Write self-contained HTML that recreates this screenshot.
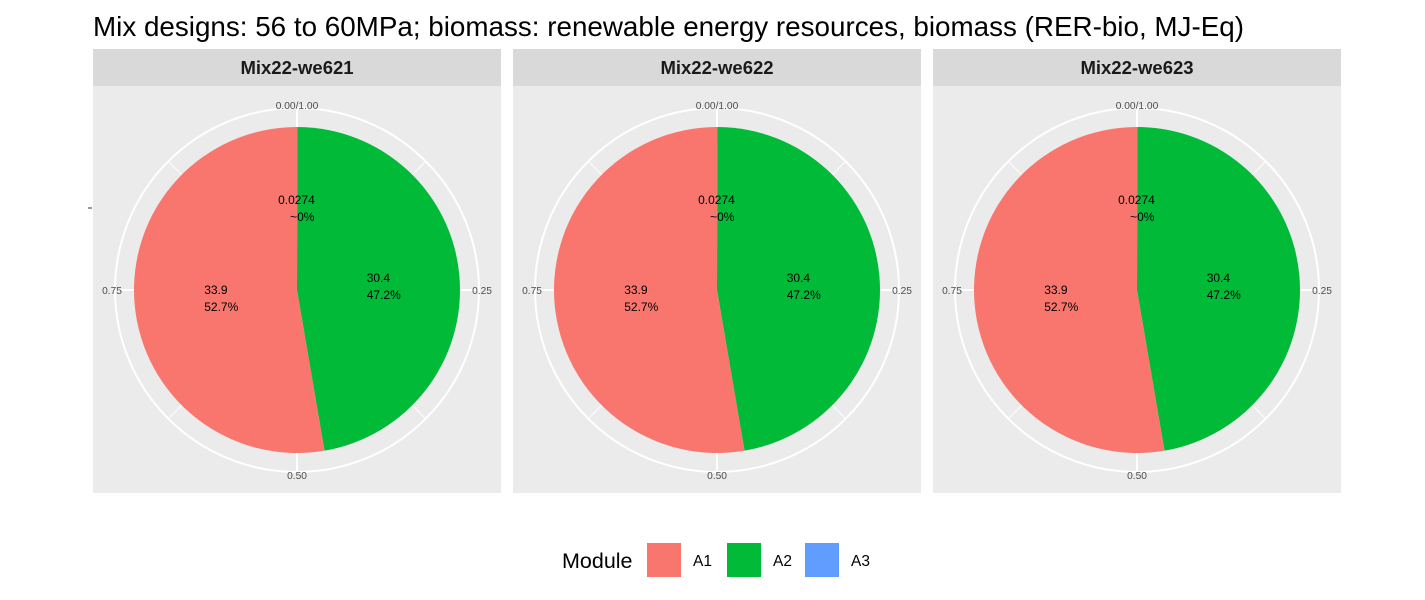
<!DOCTYPE html>
<html><head><meta charset="utf-8"><style>
body{margin:0;background:#fff;}
svg{display:block;font-family:"Liberation Sans",sans-serif;}
</style></head><body>
<svg id="chart" width="1425" height="600" viewBox="0 0 1425 600">
<text x="93" y="36" font-size="27.8" fill="#000">Mix designs: 56 to 60MPa; biomass: renewable energy resources, biomass (RER-bio, MJ-Eq)</text>
<line x1="88" y1="208" x2="92" y2="208" stroke="#333"/>
<g id="panels"></g>
<g>
<text x="562" y="568" font-size="21.5" fill="#000">Module</text>
<rect x="647" y="543" width="34" height="34" fill="#F8766D"/>
<text x="693" y="566" font-size="15.5">A1</text>
<rect x="727" y="543" width="34" height="34" fill="#00BA38"/>
<text x="773" y="566" font-size="15.5">A2</text>
<rect x="805" y="543" width="34" height="34" fill="#619CFF"/>
<text x="851" y="566" font-size="15.5">A3</text>
</g>
</svg>
<script>
const panelNames = ["Mix22-we621","Mix22-we622","Mix22-we623"];
const modules = ["A3","A2","A1"];
const values = [0.0274, 30.4, 33.9];
const pctLabels = ["~0%","47.2%","52.7%"];
const valueLabels = ["0.0274","30.4","33.9"];
const colors = {A1:"#F8766D",A2:"#00BA38",A3:"#619CFF"};
const tickLabels = ["0.00/1.00","0.25","0.50","0.75"];
const tickVals = [0,0.25,0.5,0.75];

const NS="http://www.w3.org/2000/svg";
const g=document.getElementById('panels');
function mk(tag,attrs,parent){const e=document.createElementNS(NS,tag);for(const k in attrs)e.setAttribute(k,attrs[k]);parent.appendChild(e);return e;}
const total=values.reduce((a,b)=>a+b,0);
const R=163, RG=182;
function pt(cx,cy,f,r){const a=f*2*Math.PI;return [cx+r*Math.sin(a),cy-r*Math.cos(a)];}

panelNames.forEach((name,i)=>{
  const x0=93+i*420, w=408, cx=x0+204, cy=290;
  const pg=mk('g',{},g);
  
  
  const strip=mk('rect',{x:x0,y:49,width:w,height:37,fill:'#D9D9D9'},pg);
  
  
  const st=mk('text',{x:cx,y:74,'text-anchor':'middle','font-size':18.5,'font-weight':'bold',fill:'#1a1a1a'},pg);
  st.textContent=name;
  
  
  const bg=mk('rect',{x:x0,y:86,width:w,height:407,fill:'#EBEBEB'},pg);
  
  
  for(let k=0;k<8;k++){
    const [px,py]=pt(cx,cy,k/8,RG);
    const l=mk('line',{x1:cx,y1:cy,x2:px,y2:py,stroke:'#fff','stroke-width':k%2?1:2},pg);
    
    
  }
  const ring=mk('circle',{cx:cx,cy:cy,r:RG,fill:'none',stroke:'#fff','stroke-width':2},pg);
  
  
  let acc=0;
  const labels=[];
  modules.forEach((m,j)=>{
    const f0=acc/total, f1=(acc+values[j])/total; acc+=values[j];
    const [ax,ay]=pt(cx,cy,f0,R),[bx,by]=pt(cx,cy,f1,R);
    const large=(f1-f0)>0.5?1:0;
    const s=mk('path',{d:`M${cx},${cy}L${ax},${ay}A${R},${R} 0 ${large} 1 ${bx},${by}Z`,fill:colors[m]},pg);
    
    
    labels.push([m,j,(f0+f1)/2]);
  });
  labels.forEach(([m,j,fm])=>{
    const lr = m==="A3"?84:72;
    let [lx,ly]=pt(cx,cy,fm,lr);
    const dx = m==="A3"?-19:(m==="A1"?-21:-2);
    lx+=dx;
    const t1=mk('text',{x:lx,y:ly-2,'font-size':12,fill:'#000'},pg);
    t1.textContent=valueLabels[j];
    
    
    const t2=mk('text',{x:lx+(m==="A3"?12:0),y:ly+15,'font-size':12,fill:'#000'},pg);
    t2.textContent=pctLabels[j];
    
    
  });
  tickVals.forEach((v,k)=>{
    let [tx,ty]=pt(cx,cy,v,RG+3);
    const t=mk('text',{x:tx,y:ty+4,'text-anchor':'middle','font-size':10.2,fill:'#4d4d4d'},pg);
    t.textContent=tickLabels[k];
    
    
  });
});
</script>
</body></html>
